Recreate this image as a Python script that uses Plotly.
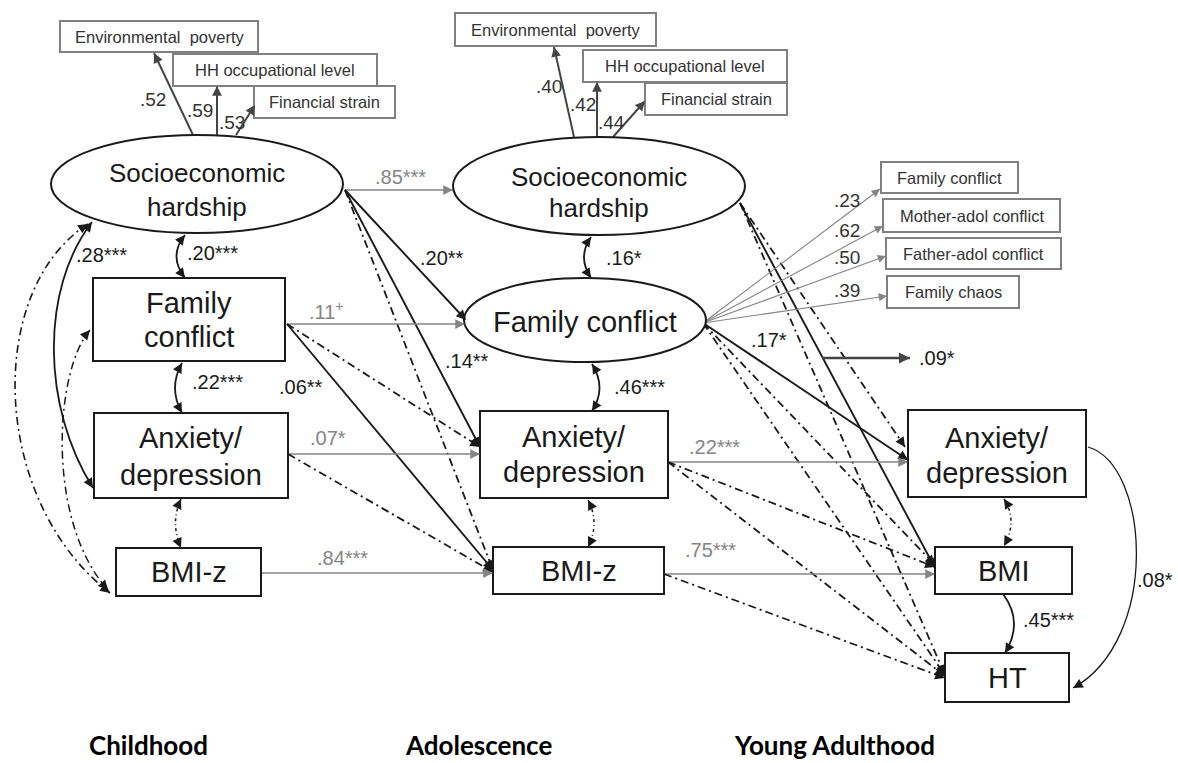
import math
import plotly.graph_objects as go

# ---------------- data ----------------
periods = ["Childhood", "Adolescence", "Young Adulthood"]

ses_label = ["Socioeconomic", "hardship"]
fc_latent_label = "Family conflict"
child_box_labels = [["Family", "conflict"], ["Anxiety/", "depression"], ["BMI-z"]]
adol_box_labels = [["Anxiety/", "depression"], ["BMI-z"]]
ya_box_labels = [["Anxiety/", "depression"], ["BMI"], ["HT"]]

ses_indicators = ["Environmental  poverty", "HH occupational level", "Financial strain"]
ses_loadings_child = [0.52, 0.59, 0.53]
ses_loadings_adol = [0.40, 0.42, 0.44]

fc_indicators = ["Family conflict", "Mother-adol conflict", "Father-adol conflict", "Family chaos"]
fc_loadings = [0.23, 0.62, 0.50, 0.39]

# stability paths (gray): SES c->a, FC c->a, Anx c->a, BMI c->a, Anx a->y, BMI a->y
stability_coefs = [0.85, 0.11, 0.07, 0.84, 0.22, 0.75]
stability_sig = ["***", "+", "*", "***", "***", "***"]

# cross-lagged paths (black): SES_c->FC_a, SES_c->Anx_a, FC_c->BMI_a, FC_a->Anx_y
cross_coefs = [0.20, 0.14, 0.06, 0.17]
cross_sig = ["**", "**", "**", "*"]

# within-time covariances: childhood (SES-Anx, SES-FC, FC-Anx), adolescence (SES-FC, FC-Anx)
cov_child = [0.28, 0.20, 0.22]
cov_child_sig = ["***", "***", "***"]
cov_adol = [0.16, 0.46]
cov_adol_sig = ["*", "***"]

# young adulthood paths: BMI->HT, Anx->HT
ya_coefs = [0.45, 0.08]
ya_sig = ["***", "*"]

indirect_coef = 0.09
indirect_sig = "*"


def fmt(v, sig=""):
    s = f"{v:.2f}".lstrip("0")
    if sig == "+":
        return s + "<sup>+</sup>"
    return s + sig


# ---------------- styles ----------------
FONT = "Liberation Sans, Arial, sans-serif"
BLACK = "#1a1a1a"
GRAY = "#858585"
DGRAY = "#454545"
DASHDOT = "8px,4px,2px,4px"
DOTTED = "3px,3px,1px,3px"

shapes = []
annotations = []


def line(p0, p1, color, width, dash="solid"):
    shapes.append(dict(type="line", xref="x", yref="y", x0=p0[0], y0=p0[1], x1=p1[0], y1=p1[1],
                       line=dict(color=color, width=width, dash=dash)))


def head(tip, frm, color, size=1.3, width=1.5, L=9.0):
    dx, dy = tip[0] - frm[0], tip[1] - frm[1]
    d = math.hypot(dx, dy)
    annotations.append(dict(x=tip[0], y=tip[1], ax=tip[0] - dx / d * L, ay=tip[1] - dy / d * L,
                            xref="x", yref="y", axref="x", ayref="y", text="",
                            font=dict(size=1), borderpad=0, showarrow=True,
                            arrowhead=2, arrowsize=size, arrowwidth=width, arrowcolor=color, standoff=0))


def arrow(p0, p1, color, width, dash="solid", hsize=1.3, hwidth=1.5):
    line(p0, p1, color, width, dash)
    head(p1, p0, color, size=hsize, width=hwidth)


def qcurve(p0, c, p1, color, width, dash="solid", both=True):
    shapes.append(dict(type="path", xref="x", yref="y",
                       path=f"M {p0[0]},{p0[1]} Q {c[0]},{c[1]} {p1[0]},{p1[1]}",
                       line=dict(color=color, width=width, dash=dash)))
    head(p1, c, color, L=6)
    if both:
        head(p0, c, color, L=6)


def ccurve(p0, c1, c2, p1, color, width, dash="solid", both=True):
    shapes.append(dict(type="path", xref="x", yref="y",
                       path=f"M {p0[0]},{p0[1]} C {c1[0]},{c1[1]} {c2[0]},{c2[1]} {p1[0]},{p1[1]}",
                       line=dict(color=color, width=width, dash=dash)))
    head(p1, c2, color, L=6)
    if both:
        head(p0, c1, color, L=6)


def text(x, y, s, size, color=BLACK, family=FONT, xanchor="center"):
    annotations.append(dict(x=x, y=y, xref="x", yref="y", text=s, showarrow=False,
                            font=dict(size=size, color=color, family=family),
                            xanchor=xanchor, yanchor="middle"))


def rect(b, color, width, fill="white"):
    shapes.append(dict(type="rect", xref="x", yref="y", x0=b[0], y0=b[1], x1=b[2], y1=b[3],
                       line=dict(color=color, width=width), fillcolor=fill))


def ellipse(e, color=BLACK, width=2):
    cx, cy, rx, ry = e
    shapes.append(dict(type="circle", xref="x", yref="y", x0=cx - rx, y0=cy - ry, x1=cx + rx, y1=cy + ry,
                       line=dict(color=color, width=width), fillcolor="white"))


# ---------------- layout geometry (pixel positions) ----------------
SES_C = (197, 184, 146, 49)
SES_A = (599, 186, 146, 49)
FC_A = (585, 320, 121, 42)

FC_C_BOX = (93, 278, 285, 361)
ANX_C_BOX = (94, 413, 288, 498)
BMI_C_BOX = (116, 548, 261, 596)
ANX_A_BOX = (480, 411, 668, 498)
BMI_A_BOX = (493, 547, 664, 594)
ANX_Y_BOX = (908, 410, 1086, 497)
BMI_Y_BOX = (935, 547, 1072, 594)
HT_Y_BOX = (945, 653, 1069, 702)

ses_ind_boxes_c = [(60, 21, 258, 52), (173, 54, 377, 86), (254, 86, 395, 118)]
ses_ind_boxes_a = [(455, 13, 656, 46), (583, 50, 787, 82), (645, 83, 787, 115)]
fc_ind_boxes = [(881, 162, 1018, 193), (883, 199, 1060, 232), (886, 238, 1061, 269), (887, 276, 1019, 308)]

# ---------------- paths (drawn before nodes) ----------------
# childhood -> adolescence
sc = (345, 190)
arrow(sc, (453, 190), GRAY, 1.4)
arrow(sc, (466, 320), BLACK, 1.9)
arrow(sc, (480, 447), BLACK, 1.9)
arrow(sc, (493, 570), BLACK, 1.8, DASHDOT)
fcc = (287, 324)
arrow(fcc, (465, 324), GRAY, 1.4)
arrow(fcc, (480, 447), BLACK, 1.8, DASHDOT)
arrow(fcc, (493, 570), BLACK, 1.9)
anc = (288, 454)
arrow(anc, (480, 454), GRAY, 1.4)
arrow(anc, (493, 572), BLACK, 1.8, DASHDOT)
arrow((261, 573), (493, 573), GRAY, 1.4)

# adolescence -> young adulthood
sa = (740, 203)
arrow(sa, (905, 447), BLACK, 1.8, DASHDOT)
arrow(sa, (935, 568), BLACK, 1.9)
arrow(sa, (945, 675), BLACK, 1.8, DASHDOT)
fca = (703, 323)
# factor loadings of adolescent family conflict (gray, thin)
fc_tips = [(880, 189), (883, 226), (886, 256), (887, 296)]
for tip in fc_tips:
    arrow(fca, tip, GRAY, 1.1, hsize=1.1)
arrow(fca, (908, 460), BLACK, 1.9)
arrow(fca, (935, 565), BLACK, 1.8, DASHDOT)
arrow(fca, (945, 675), BLACK, 1.8, DASHDOT)
ana = (668, 462)
arrow(ana, (908, 462), GRAY, 1.4)
arrow(ana, (935, 567), BLACK, 1.8, DASHDOT)
arrow(ana, (945, 676), BLACK, 1.8, DASHDOT)
bma = (664, 574)
arrow(bma, (935, 574), GRAY, 1.4)
arrow(bma, (945, 678), BLACK, 1.8, DASHDOT)

# indirect effect arrow
arrow((822, 358), (910, 358), DGRAY, 2.6, hsize=1.0, hwidth=2.2)

# childhood loadings
arrow((193, 135), (154, 53), DGRAY, 2)
arrow((217, 135), (217, 86), DGRAY, 2)
arrow((236, 135), (255, 105), DGRAY, 2)
# adolescence loadings
arrow((574, 137), (554, 47), DGRAY, 2)
arrow((597, 137), (597, 82), DGRAY, 2)
arrow((613, 137), (645, 101), DGRAY, 2)

# covariances (curved, double-headed)
qcurve((185, 235), (168, 256), (185, 278), BLACK, 1.8)
qcurve((182, 363), (168, 388), (182, 413), BLACK, 1.8)
qcurve((181, 499), (170, 523), (181, 548), BLACK, 1.5, DOTTED)
ccurve((92, 222), (40, 290), (42, 407), (93, 488), BLACK, 1.8)
ccurve((88, 224), (-15, 290), (-10, 500), (110, 593), BLACK, 1.6, DASHDOT)
ccurve((90, 330), (55, 370), (45, 520), (108, 590), BLACK, 1.5, DASHDOT)

qcurve((591, 237), (577, 257), (591, 278), BLACK, 1.8)
qcurve((592, 364), (607, 388), (592, 411), BLACK, 1.8)
qcurve((588, 500), (600, 523), (588, 547), BLACK, 1.5, DOTTED)
qcurve((1004, 499), (1018, 521), (1004, 546), BLACK, 1.5, DOTTED)

# young adulthood directed curves
qcurve((1003, 594), (1024, 622), (1005, 653), BLACK, 1.8, both=False)
ccurve((1088, 447), (1150, 465), (1160, 640), (1073, 688), BLACK, 1.3, both=False)

# ---------------- nodes ----------------
ellipse(SES_C)
ellipse(SES_A)
ellipse(FC_A)
for b in [FC_C_BOX, ANX_C_BOX, BMI_C_BOX, ANX_A_BOX, BMI_A_BOX, ANX_Y_BOX, BMI_Y_BOX, HT_Y_BOX]:
    rect(b, BLACK, 2)
for b in ses_ind_boxes_c + ses_ind_boxes_a + fc_ind_boxes:
    rect(b, "#808080", 2)

# node labels
BOX_FS = 29
text(197, 173, ses_label[0], 26)
text(197, 207, ses_label[1], 26)
text(599, 177, ses_label[0], 26)
text(599, 208, ses_label[1], 26)
text(585, 322, fc_latent_label, 29)


def box_text(b, lines, ys):
    cx = (b[0] + b[2]) / 2
    for s, y in zip(lines, ys):
        text(cx, y, s, BOX_FS)


box_text(FC_C_BOX, child_box_labels[0], [303, 337])
box_text(ANX_C_BOX, child_box_labels[1], [438, 475])
box_text(BMI_C_BOX, child_box_labels[2], [572])
box_text(ANX_A_BOX, adol_box_labels[0], [437, 472])
box_text(BMI_A_BOX, adol_box_labels[1], [571])
box_text(ANX_Y_BOX, ya_box_labels[0], [438, 473])
box_text(BMI_Y_BOX, ya_box_labels[1], [571])
box_text(HT_Y_BOX, ya_box_labels[2], [678])

IND_FS = 16.5
for b, s in zip(ses_ind_boxes_c, ses_indicators):
    text((b[0] + b[2]) / 2, (b[1] + b[3]) / 2, s, IND_FS, "#333333")
for b, s in zip(ses_ind_boxes_a, ses_indicators):
    text((b[0] + b[2]) / 2, (b[1] + b[3]) / 2, s, IND_FS, "#333333")
for b, s in zip(fc_ind_boxes, fc_indicators):
    text((b[0] + b[2]) / 2, (b[1] + b[3]) / 2, s, IND_FS, "#333333")

# loadings labels
for (x, y), v in zip([(153, 99), (200, 110), (232, 122)], ses_loadings_child):
    text(x, y, fmt(v), 19, "#333333")
for (x, y), v in zip([(549, 86), (583, 104), (611, 122)], ses_loadings_adol):
    text(x, y, fmt(v), 19, "#333333")
for (x, y), v in zip([(847, 200), (847, 230), (847, 257), (847, 290)], fc_loadings):
    text(x, y, fmt(v), 19, "#333333")

# stability coefficient labels (gray)
stab_pos = [(400, 177), (326, 310), (328, 438), (342, 558), (714, 447), (710, 550)]
for (x, y), v, s in zip(stab_pos, stability_coefs, stability_sig):
    text(x, y, fmt(v, s), 20, GRAY)

# cross-lagged labels
cross_pos = [(442, 258), (467, 361), (301, 387), (769, 340)]
for (x, y), v, s in zip(cross_pos, cross_coefs, cross_sig):
    text(x, y, fmt(v, s), 20, BLACK)

# covariance labels
for (x, y), v, s in zip([(101, 255), (212, 253), (217, 382)], cov_child, cov_child_sig):
    text(x, y, fmt(v, s), 20, BLACK)
for (x, y), v, s in zip([(624, 258), (639, 387)], cov_adol, cov_adol_sig):
    text(x, y, fmt(v, s), 20, BLACK)

# young adulthood labels
text(1048, 620, fmt(ya_coefs[0], ya_sig[0]), 20, BLACK)
text(1155, 580, fmt(ya_coefs[1], ya_sig[1]), 20, BLACK)
text(937, 358, fmt(indirect_coef, indirect_sig), 20, BLACK)

# period labels
for x, s in zip([148, 478, 834], periods):
    text(x, 745, f"<b>{s}</b>", 26, "#000000", family="Lato, Open Sans, sans-serif")

fig = go.Figure()
fig.update_layout(
    width=1178, height=763, autosize=False,
    margin=dict(l=0, r=0, t=0, b=0, pad=0),
    paper_bgcolor="white", plot_bgcolor="white",
    xaxis=dict(range=[0, 1178], visible=False, fixedrange=True),
    yaxis=dict(range=[763, 0], visible=False, fixedrange=True),
    shapes=shapes, annotations=annotations, showlegend=False,
)
fig.write_html("out.html", config={"displayModeBar": False, "staticPlot": True},
               post_script="document.body.style.margin='0';document.body.style.overflow='hidden';")
